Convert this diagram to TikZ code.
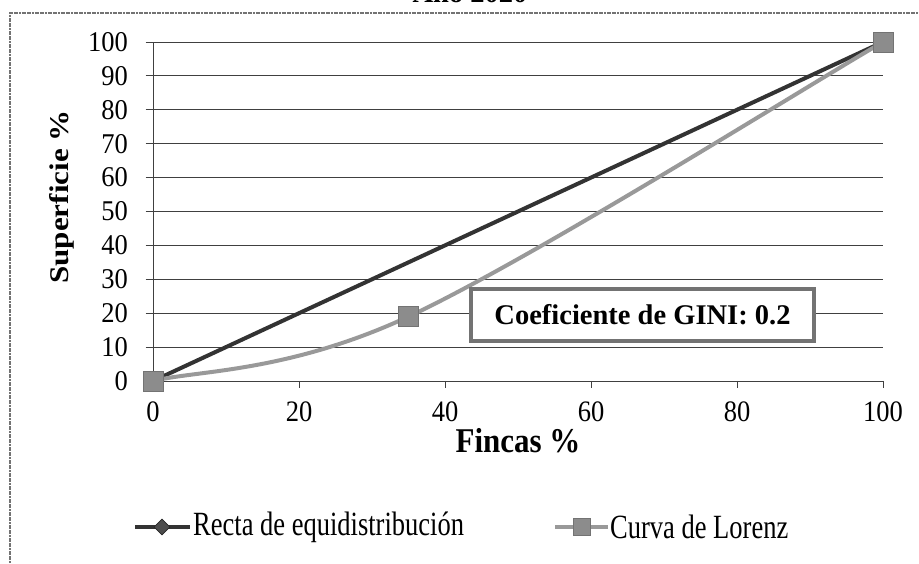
\documentclass[tikz,border=0pt]{standalone}
\usepackage{fontspec}
\setmainfont{Liberation Serif}
\usetikzlibrary{shapes.geometric}
\begin{document}
\begin{tikzpicture}[x=1pt,y=1pt,
  gridline/.style={black!75, line width=0.9pt},
  frameline/.style={black!55, line width=1.2pt, dash pattern=on 2pt off 0.6pt},
  recta/.style={black!80, line width=4pt},
  lorenz/.style={black!40, line width=4pt},
  sqmark/.style={rectangle, fill=black!45, draw=black!55, line width=0.8pt, minimum size=20pt, inner sep=0pt},
  dmmark/.style={diamond, fill=black!70, draw=black!85, line width=0.8pt, minimum size=16pt, inner sep=0pt},
  lbl/.style={font=\fontsize{26.5}{30}\selectfont, inner sep=0pt},
  blbl/.style={font=\fontsize{28.5}{30}\selectfont\bfseries, inner sep=0pt},
]
\useasboundingbox (0,0) rectangle (919,563);
\clip (0,0) rectangle (919,563);
% cut-off title
\node[blbl, anchor=base] (title) at (470,560) {Año 2020};
% frame
\coordinate (fBL) at (10,0);
\coordinate (fTL) at (10,550);
\coordinate (fTR) at (919,550);
\draw[frameline] (fBL) -- (fTL) -- (fTR);
\begin{scope}[shift={(153,182)}, x=7.3pt, y=3.39pt]
  \foreach \v in {10,20,...,100} {
    \draw[gridline] (-1,\v) -- (100,\v);
  }
  \foreach \v in {0,10,...,100} {
    \node[lbl, anchor=east] (yl\v) at (-3.4,\v) {\scalebox{1}[1.08]{\v}};
  }
  \coordinate (o) at (0,0);
  \coordinate (ytop) at (0,100);
  \coordinate (xleft) at (-1,0);
  \coordinate (xright) at (100,0);
  \draw[gridline] (o) -- (ytop);
  \draw[gridline] (xleft) -- (xright);
  \foreach \v in {20,40,...,100} {
    \draw[gridline] (\v,0) -- (\v,-2);
  }
  \foreach \v in {0,20,...,100} {
    \node[lbl] (xl\v) at (\v,-9) {\scalebox{1}[1.12]{\v}};
  }
  % recta de equidistribucion
  \node[dmmark] (r0) at (0,0) {};
  \node[dmmark] (r1) at (100,100) {};
  \draw[recta] (r0.center) -- (r1.center);
  % curva de Lorenz
  \coordinate (l0) at (0,0);
  \coordinate (l1) at (35,19);
  \coordinate (l2) at (100,100);
  \draw[lorenz] (l0) .. controls (5.83,3.17) and (18.33,2.33) .. (l1)
                     .. controls (51.67,35.67) and (89.17,86.5) .. (l2);
  \node[sqmark] (m0) at (l0) {};
  \node[sqmark] (m1) at (l1) {};
  \node[sqmark] (m2) at (l2) {};
\end{scope}
% GINI box
\node[blbl, draw=black!55, line width=3.5pt, fill=white, minimum width=343pt, minimum height=52pt] (gini) at (642.5,248) {Coeficiente de GINI: 0.2};
% axis titles
\node[blbl, rotate=90] (ytitle) at (62,366) {\scalebox{1.15}[1]{\fontsize{27}{30}\selectfont Superficie \%}};
\node[blbl] (xtitle) at (518,122) {\scalebox{1}[1.12]{\fontsize{31}{33}\selectfont Fincas \%}};
% legend
\coordinate (la) at (135,36);
\coordinate (lb) at (190,36);
\draw[recta] (la) -- (lb);
\node[dmmark] (ld) at (162,36) {};
\node[lbl, anchor=west] (lt1) at (193,36) {\scalebox{1}[1.28]{Recta de equidistribución}};
\coordinate (lc) at (555,36);
\coordinate (ldd) at (608,36);
\draw[lorenz] (lc) -- (ldd);
\node[sqmark, minimum size=17pt] (ls) at (582,36) {};
\node[lbl, anchor=west] (lt2) at (610,36) {\scalebox{1}[1.28]{Curva de Lorenz}};
\end{tikzpicture}
\end{document}
